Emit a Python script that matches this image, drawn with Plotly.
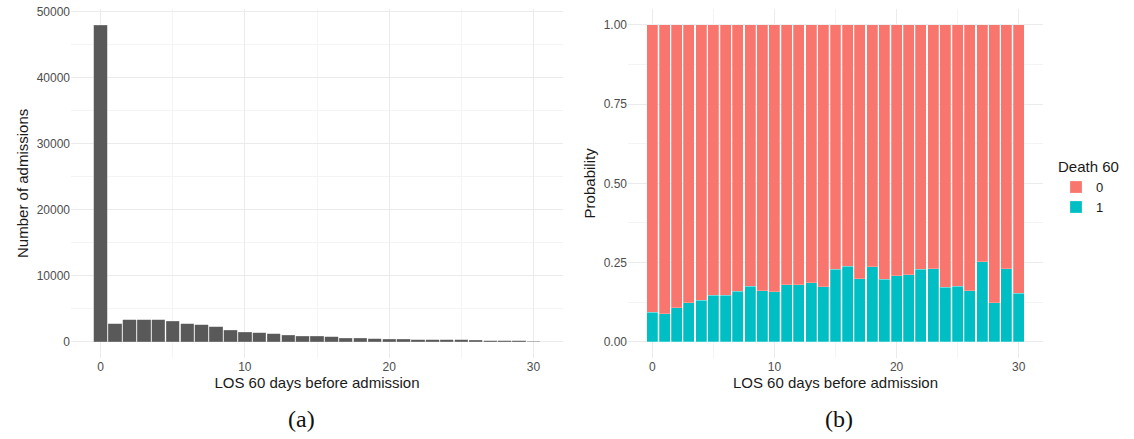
import plotly.graph_objects as go

# ---------- data ----------
los_days = list(range(0, 31))
admissions = [47900, 2780, 3330, 3330, 3330, 3130, 2780, 2580, 2270, 1770,
              1460, 1360, 1260, 1010, 860, 860, 760, 560, 560, 450,
              400, 400, 350, 300, 300, 300, 250, 200, 150, 150, 10]

prob_days = list(range(0, 31))
prob_death1 = [0.093, 0.088, 0.107, 0.123, 0.131, 0.147, 0.147, 0.160, 0.175, 0.161,
               0.158, 0.180, 0.180, 0.187, 0.174, 0.229, 0.239, 0.199, 0.237, 0.197,
               0.209, 0.212, 0.229, 0.231, 0.173, 0.175, 0.161, 0.252, 0.123, 0.231,
               0.154]
prob_death0 = [round(1 - p, 3) for p in prob_death1]

x_ticks = [0, 10, 20, 30]
left_y_ticks = [0, 10000, 20000, 30000, 40000, 50000]
right_y_ticks = [0.0, 0.25, 0.5, 0.75, 1.0]

RED = "#F8766D"
TEAL = "#00BFC4"
GRID = "#EBEBEB"
MINOR = "#F4F4F4"
TICKC = "#4D4D4D"
FONT = "Liberation Sans"

W, H = 1134, 439

fig = go.Figure()

fig.add_trace(go.Bar(x=los_days, y=admissions, width=0.92,
                     marker=dict(color="#595959", line=dict(color="#9a9a9a", width=0.4)),
                     xaxis="x", yaxis="y", showlegend=False))

fig.add_trace(go.Bar(x=prob_days, y=prob_death1, width=0.9, name="1",
                     marker=dict(color=TEAL, line=dict(color="rgba(255,255,255,0.6)", width=0.4)),
                     xaxis="x2", yaxis="y2", legendrank=2))
fig.add_trace(go.Bar(x=prob_days, y=prob_death0, width=0.9, name="0",
                     marker=dict(color=RED, line=dict(color="rgba(255,255,255,0.6)", width=0.4)),
                     xaxis="x2", yaxis="y2", legendrank=1))

ytop = 1 - 5 / H
ybot = 1 - 357 / H

def xaxis(domain, anchor, rng):
    return dict(domain=domain, anchor=anchor, range=rng,
                tickmode="array", tickvals=x_ticks,
                showgrid=True, gridcolor=GRID, gridwidth=1,
                minor=dict(tickvals=[5, 15, 25], showgrid=True, gridcolor=MINOR, gridwidth=0.6),
                zeroline=False, showline=False, ticks="",
                tickfont=dict(family=FONT, size=12, color=TICKC),
                title=dict(text="LOS 60 days before admission",
                           font=dict(family=FONT, size=15, color="#1a1a1a"), standoff=4))

fig.update_layout(
    width=W, height=H, margin=dict(l=0, r=0, t=0, b=0),
    plot_bgcolor="white", paper_bgcolor="white",
    barmode="stack",
    font=dict(family=FONT),
    xaxis=xaxis([71 / W, 563 / W], "y", [-2.05, 32.05]),
    yaxis=dict(domain=[ybot, ytop], anchor="x", range=[-2400, 50400],
               tickmode="array", tickvals=left_y_ticks, tickformat="d",
               showgrid=True, gridcolor=GRID,
               minor=dict(tickvals=[5000, 15000, 25000, 35000, 45000], showgrid=True,
                          gridcolor=MINOR, gridwidth=0.6),
               zeroline=False, showline=False, ticks="",
               tickfont=dict(family=FONT, size=12, color=TICKC),
               title=dict(text="Number of admissions",
                          font=dict(family=FONT, size=15, color="#1a1a1a"), standoff=4)),
    xaxis2=xaxis([628 / W, 1043 / W], "y2", [-1.995, 31.995]),
    yaxis2=dict(domain=[ybot, ytop], anchor="x2", range=[-0.05, 1.05],
                tickmode="array", tickvals=right_y_ticks, tickformat=".2f",
                showgrid=True, gridcolor=GRID,
                minor=dict(tickvals=[0.125, 0.375, 0.625, 0.875], showgrid=True,
                           gridcolor=MINOR, gridwidth=0.6),
                zeroline=False, showline=False, ticks="",
                tickfont=dict(family=FONT, size=12, color=TICKC),
                title=dict(text="Probability",
                           font=dict(family=FONT, size=15, color="#1a1a1a"), standoff=4)),
    legend=dict(x=1056 / W, y=1 - 150 / H, xanchor="left", yanchor="top",
                traceorder="normal",
                title=dict(text="Death 60", font=dict(family=FONT, size=15, color="#1a1a1a")),
                font=dict(family=FONT, size=13, color="#1a1a1a"),
                bgcolor="rgba(0,0,0,0)", tracegroupgap=0, itemwidth=30),
    annotations=[
        dict(text="(a)", x=286 / W, y=1 - 434 / H, xref="paper", yref="paper",
             yanchor="bottom", showarrow=False,
             font=dict(family="Liberation Serif", size=24, color="#111")),
        dict(text="(b)", x=855 / W, y=1 - 434 / H, xref="paper", yref="paper",
             yanchor="bottom", showarrow=False,
             font=dict(family="Liberation Serif", size=24, color="#111")),
    ],
)

fig.write_html("out.html")
